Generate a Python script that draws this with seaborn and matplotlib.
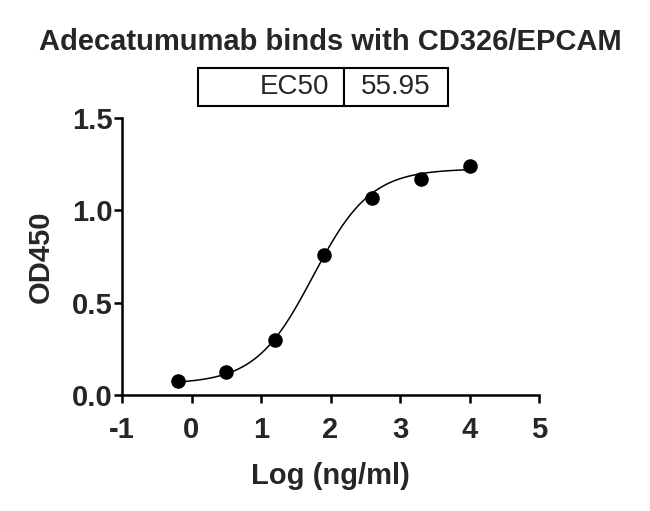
import numpy as np
import pandas as pd
import seaborn as sns
import matplotlib
matplotlib.use("Agg")
import matplotlib.pyplot as plt

# data
log_conc = [-0.20, 0.50, 1.20, 1.91, 2.60, 3.30, 4.00]
od450 = [0.077, 0.126, 0.299, 0.760, 1.067, 1.168, 1.238]

# 4PL fit parameters (EC50 = 55.95 ng/ml)
fit_bottom = 0.06
fit_top = 1.225
fit_ec50 = 55.95
fit_hill = 1.05

x_ticks = [-1, 0, 1, 2, 3, 4, 5]
y_ticks = [0.0, 0.5, 1.0, 1.5]
y_tick_labels = ["0.0", "0.5", "1.0", "1.5"]

sns.set_style("ticks")
plt.rcParams['font.family'] = ['Liberation Sans', 'DejaVu Sans']

points = pd.DataFrame({'logc': log_conc, 'od': od450})
xs = np.linspace(min(log_conc), max(log_conc), 300)
curve = pd.DataFrame({
    'logc': xs,
    'od': fit_bottom + (fit_top - fit_bottom) /
          (1 + 10 ** ((np.log10(fit_ec50) - xs) * fit_hill)),
})

fig = plt.figure(figsize=(6.5, 5.11), dpi=100)
ax = fig.add_axes([122 / 650, 1 - 395 / 511, 417 / 650, 277 / 511])

sns.lineplot(data=curve, x='logc', y='od', ax=ax, color='black', linewidth=1.1)
sns.scatterplot(data=points, x='logc', y='od', ax=ax, color='black', s=110,
                edgecolor='black', linewidth=0, zorder=3, clip_on=False)

ax.set_xlim(-1, 5)
ax.set_ylim(0, 1.5)
ax.set_xticks(x_ticks)
ax.set_xticklabels([str(t) for t in x_ticks], fontsize=21, fontweight='bold')
ax.set_yticks(y_ticks)
ax.set_yticklabels(y_tick_labels, fontsize=21, fontweight='bold')
ax.tick_params(axis='both', length=6, width=1.8, color='black')
ax.tick_params(axis='x', pad=9)
ax.tick_params(axis='y', pad=1)
for side in ['left', 'bottom']:
    ax.spines[side].set_linewidth(1.8)
    ax.spines[side].set_color('black')
sns.despine(ax=ax)

ax.set_xlabel('Log (ng/ml)', fontsize=21, fontweight='bold', labelpad=13)
ax.set_ylabel('OD450', fontsize=21, fontweight='bold', labelpad=12)

fig.text(0.508, 1 - 50 / 511, 'Adecatumumab binds with CD326/EPCAM',
         ha='center', va='baseline', fontsize=21, fontweight='bold')

# EC50 box above the plot
tbl = ax.table(cellText=[['EC50', '55.95']], cellLoc='center',
               colWidths=[0.350, 0.250],
               bbox=[0.182, 1.043, 0.600, 0.138])
tbl.auto_set_font_size(False)
for (r, c), cell in tbl.get_celld().items():
    cell.set_linewidth(1.5)
    cell.set_edgecolor('black')
    cell.get_text().set_fontsize(20)
    if c == 0:
        cell._loc = 'right'
        cell.get_text().set_ha('right')

fig.savefig('out.png', dpi=100)
